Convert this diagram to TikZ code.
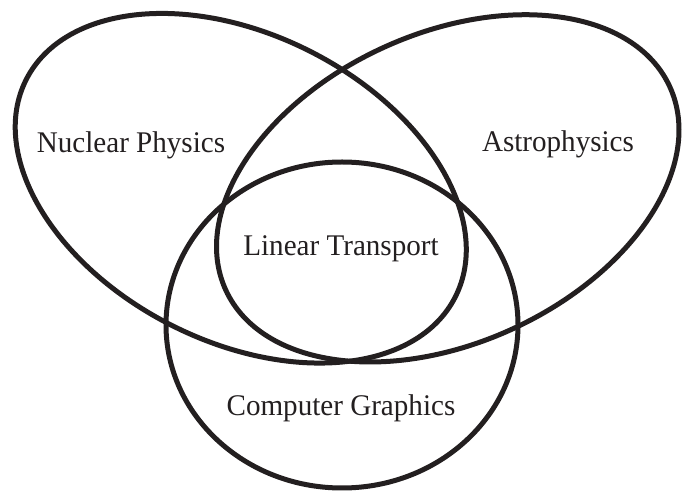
\documentclass[tikz,border=0pt]{standalone}
\usepackage{fontspec}
\setmainfont[FakeStretch=0.97]{Liberation Serif}
\definecolor{ink}{HTML}{231F20}
\begin{document}
\begin{tikzpicture}[x=1pt,y=1pt,
  setline/.style={draw=ink,line width=5pt},
  lbl/.style={anchor=base,inner sep=0pt,text=ink,font=\fontsize{30}{32}\selectfont}]
\useasboundingbox (0,0) rectangle (682,492);
% Nuclear Physics (left ellipse)
\draw[setline,rotate around={-26.86:(240.75,303.75)}] (240.75,303.75) ellipse (240.5 and 153.5);
% Astrophysics (right ellipse)
\draw[setline,rotate around={24.6:(447.75,303.65)}] (447.75,303.65) ellipse (244.2 and 154.8);
% Computer Graphics (circle)
\draw[setline] (342,167) ellipse (176 and 163);
\node[lbl] (np) at (131,339.3) {Nuclear Physics};
\node[lbl] (ap) at (558,340.3) {Astrophysics};
\node[lbl] (lt) at (341,236) {Linear Transport};
\node[lbl] (cg) at (341,76) {Computer Graphics};
\end{tikzpicture}
\end{document}
